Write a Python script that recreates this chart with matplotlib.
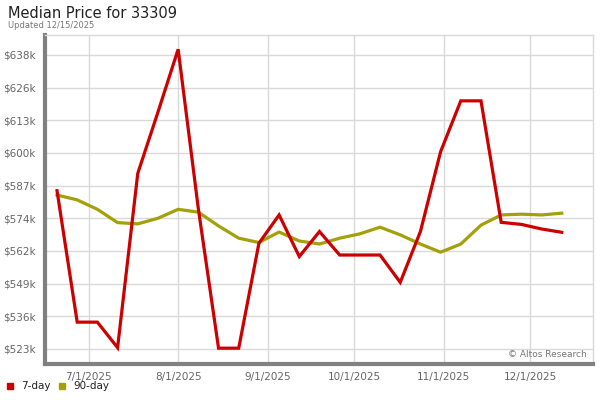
import numpy as np
import pandas as pd
import matplotlib
matplotlib.use('Agg')
import matplotlib.pyplot as plt
import matplotlib.dates as mdates
from matplotlib.ticker import FuncFormatter

# Datos semanales (precio mediano, en miles de $)
fechas = pd.date_range('2025-06-20', periods=26, freq='7D')
precio_7d = [585.2, 533.7, 533.7, 523.7, 592.0, 616.0, 640.6, 578.1, 523.5, 523.5,
             564.6, 575.7, 559.4, 569.2, 560.0, 560.0, 560.0, 549.3, 569.2, 600.5,
             620.4, 620.4, 572.8, 572.0, 570.2, 568.9]
precio_90d = [583.5, 581.6, 577.9, 572.7, 572.2, 574.4, 577.9, 576.8, 571.4, 566.6,
              564.9, 569.0, 565.5, 564.3, 566.6, 568.3, 570.9, 567.9, 564.3, 561.1,
              564.3, 571.7, 575.7, 576.0, 575.7, 576.4]
ticks_y = [523.2, 536.0, 548.8, 561.6, 574.4, 587.2, 600.0, 612.8, 625.6, 638.4]
ticks_x = ['2025-07-01', '2025-08-01', '2025-09-01', '2025-10-01', '2025-11-01', '2025-12-01']

rojo = '#cc0000'
oliva = '#a3a00a'
gris = '#808080'
rejilla = '#d9d9d9'

fig = plt.figure(figsize=(6, 4), dpi=100)
W, H = 600, 400
ax = fig.add_axes([45 / W, 1 - 364 / H, (593 - 45) / W, (364 - 35) / H])

ax.plot(fechas, precio_7d, color=rojo, lw=2.3, solid_joinstyle='miter', zorder=3)
ax.plot(fechas, precio_90d, color=oliva, lw=2.3, zorder=2)

ax.set_ylim(517.3, 646.2)
ax.set_xlim(pd.Timestamp('2025-06-15 20:00'), pd.Timestamp('2025-12-22 20:00'))
ax.set_yticks(ticks_y)
ax.yaxis.set_major_formatter(FuncFormatter(lambda v, p: f'${v:.0f}k'))
ax.set_xticks(pd.to_datetime(ticks_x))
ax.xaxis.set_major_formatter(mdates.DateFormatter('%-m/%-d/%Y'))

ax.grid(True, color=rejilla, lw=1)
ax.set_axisbelow(True)
ax.tick_params(length=0, colors='#666666', labelsize=7.5)
ax.tick_params(axis='y', pad=7)
ax.tick_params(axis='x', pad=6)
for s in ['top', 'right']:
    ax.spines[s].set_color(rejilla)
    ax.spines[s].set_linewidth(1)
for s in ['left', 'bottom']:
    ax.spines[s].set_color(gris)
    ax.spines[s].set_linewidth(3)

ax.text(0.988, 0.03, '\u00a9 Altos Research', transform=ax.transAxes, ha='right',
        va='center', fontsize=6.5, color='#777777')

fig.text(8 / W, 1 - 14 / H, 'Median Price for 33309', fontsize=10.5, va='center', color='#222222')
fig.text(8 / W, 1 - 25 / H, 'Updated 12/15/2025', fontsize=6, va='center', color='#777777')

# Leyenda
fig.patches.append(plt.Rectangle((7 / W, 1 - 389 / H), 6 / W, 6 / H, color=rojo,
                                 transform=fig.transFigure, figure=fig))
fig.text(21 / W, 1 - 386 / H, '7-day', fontsize=7.5, va='center', color='#222222')
fig.patches.append(plt.Rectangle((59 / W, 1 - 389 / H), 6 / W, 6 / H, color=oliva,
                                 transform=fig.transFigure, figure=fig))
fig.text(73 / W, 1 - 386 / H, '90-day', fontsize=7.5, va='center', color='#222222')

fig.savefig('out.png', dpi=100)
